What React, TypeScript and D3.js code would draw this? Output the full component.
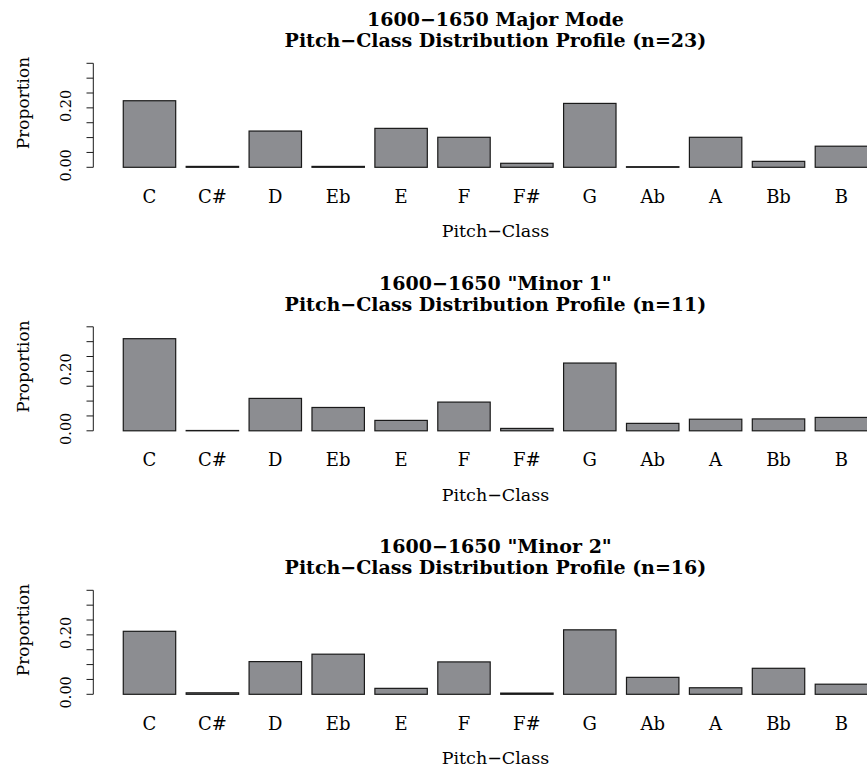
import React from "react";
import * as d3 from "d3";

const pitchClasses = ["C", "C#", "D", "Eb", "E", "F", "F#", "G", "Ab", "A", "Bb", "B"];
const majorValues = [0.224, 0.003, 0.122, 0.003, 0.131, 0.101, 0.0135, 0.215, 0.002, 0.101, 0.02, 0.071];
const minor1Values = [0.31, 0.001, 0.109, 0.0785, 0.035, 0.0966, 0.008, 0.228, 0.025, 0.039, 0.04, 0.045];
const minor2Values = [0.212, 0.005, 0.11, 0.135, 0.02, 0.109, 0.004, 0.217, 0.057, 0.022, 0.0875, 0.034];
const panelTitles1 = ["1600\u22121650 Major Mode", "1600\u22121650 \"Minor 1\"", "1600\u22121650 \"Minor 2\""];
const panelTitles2 = [
  "Pitch\u2212Class Distribution Profile (n=23)",
  "Pitch\u2212Class Distribution Profile (n=11)",
  "Pitch\u2212Class Distribution Profile (n=16)",
];
const yTicks = [0, 0.05, 0.1, 0.15, 0.2, 0.25, 0.3, 0.35];
const yTickLabels = [0, 0.2];
const xLabel = "Pitch\u2212Class";
const yLabel = "Proportion";

const W = 867;
const H = 769;
const FONT = "'DejaVu Serif', serif";

function Panel({ values, t1, t2, offset }: { values: number[]; t1: string; t2: string; offset: number }) {
  const x = d3.scaleLinear().domain([-0.368, 14.968]).range([93.5, 897.4]);
  const y0 = 167.3 + offset;
  const y = d3.scaleLinear().domain([0, 0.35]).range([y0, y0 - 104]);
  const cx = (x(-0.368) + x(14.968)) / 2;
  const fmt = d3.format(".2f");
  return (
    <g>
      <text x={cx} y={26 + offset} textAnchor="middle" fontFamily={FONT} fontWeight="bold" fontSize={19}>
        {t1}
      </text>
      <text x={cx} y={47 + offset} textAnchor="middle" fontFamily={FONT} fontWeight="bold" fontSize={19}>
        {t2}
      </text>
      {values.map((v, i) => {
        const left = x(0.2 + i * 1.2);
        const right = x(1.2 + i * 1.2);
        return (
          <rect
            key={i}
            x={left}
            y={y(v)}
            width={right - left}
            height={y(0) - y(v)}
            fill="#8c8d91"
            stroke="#1a1a1a"
            strokeWidth={1.2}
          />
        );
      })}
      {pitchClasses.map((p, i) => (
        <text
          key={p}
          x={x(0.7 + i * 1.2)}
          y={202.5 + offset}
          textAnchor="middle"
          fontFamily={FONT}
          fontSize={18}
        >
          {p}
        </text>
      ))}
      <text x={cx} y={237 + offset} textAnchor="middle" fontFamily={FONT} fontSize={17.5}>
        {xLabel}
      </text>
      <line x1={93.3} x2={93.3} y1={y(0.35)} y2={y(0)} stroke="#1a1a1a" strokeWidth={1} />
      {yTicks.map((t) => (
        <line key={t} x1={86.5} x2={93.3} y1={y(t)} y2={y(t)} stroke="#1a1a1a" strokeWidth={1} />
      ))}
      {yTickLabels.map((t) => (
        <text
          key={t}
          transform={`translate(71,${y(t) - 2}) rotate(-90)`}
          textAnchor="middle"
          fontFamily={FONT}
          fontSize={14.5}
        >
          {fmt(t)}
        </text>
      ))}
      <text
        transform={`translate(29,${103 + offset}) rotate(-90)`}
        textAnchor="middle"
        fontFamily={FONT}
        fontSize={17}
      >
        {yLabel}
      </text>
    </g>
  );
}

export default function App() {
  const series = [majorValues, minor1Values, minor2Values];
  return (
    <svg width={W} height={H} style={{ display: "block", position: "absolute", left: 0, top: 0 }}>
      <rect width={W} height={H} fill="white" />
      {series.map((s, i) => (
        <Panel key={i} values={s} t1={panelTitles1[i]} t2={panelTitles2[i]} offset={i * 263.5} />
      ))}
    </svg>
  );
}
